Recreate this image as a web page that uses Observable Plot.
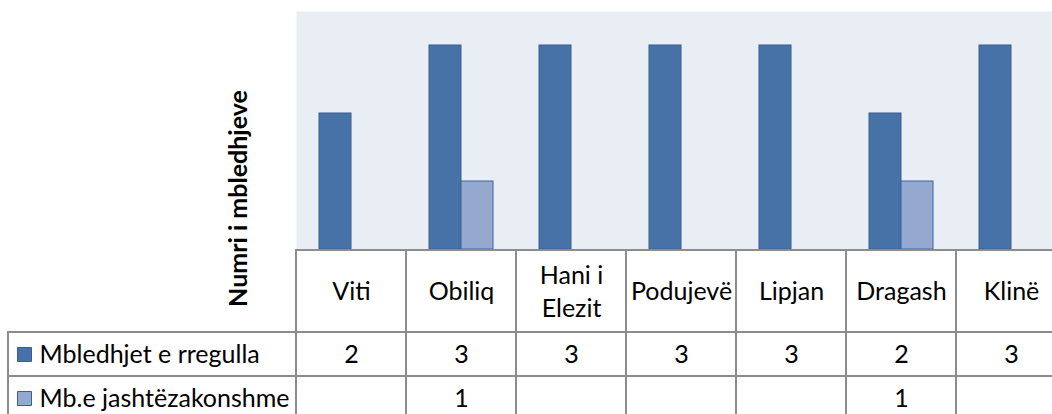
<!DOCTYPE html>
<html>
<head>
<meta charset="utf-8">
<script src="https://cdn.jsdelivr.net/npm/d3@7"></script>
<script src="https://cdn.jsdelivr.net/npm/@observablehq/plot@0.6"></script>
<style>
  html, body { margin: 0; padding: 0; background: #ffffff; }
  #chart { position: relative; width: 1052px; height: 414px; overflow: hidden; background: #ffffff; }
  #chart > div { position: absolute; width: 1070px; }
  svg { overflow: visible; max-width: none !important; }
</style>
</head>
<body>
<div id="chart">
  <div id="bars" style="left:0;top:0"></div>
  <div id="header" style="left:0;top:249px"></div>
  <div id="rows" style="left:0;top:331px"></div>
  <div id="legend" style="left:0;top:331px"></div>
</div>
<script>
// ---- data ----
const categories = ["Viti", "Obiliq", "Hani i Elezit", "Podujevë", "Lipjan", "Dragash", "Klinë"];
const seriesNames = ["Mbledhjet e rregulla", "Mb.e jashtëzakonshme"];
const regular = [2, 3, 3, 3, 3, 2, 3];
const extraordinary = [null, 1, null, null, null, 1, null];
const yTitle = "Numri i mbledhjeve";
const seriesColors = ["#4672A8", "#95A9D0"];

const rows = categories.flatMap((c, i) => [
  {category: c, series: seriesNames[0], value: regular[i]},
  {category: c, series: seriesNames[1], value: extraordinary[i]}
]);

const FONT = "Lato, 'Open Sans', sans-serif";
const FS = 25;
const GRID = "#8C8C8C";
const W = 1070, ML = 296, MR = 4;
const xOpts = {type: "band", domain: categories, padding: 0, axis: null};
const colorOpts = {domain: seriesNames, range: seriesColors};
const baseStyle = {background: "transparent", fontFamily: FONT, fontSize: FS + "px", color: "#000", overflow: "visible", maxWidth: "none"};

// ---- bars ----
const bars = Plot.plot({
  width: W, height: 251,
  marginLeft: ML, marginRight: MR, marginTop: 11, marginBottom: 2,
  style: baseStyle,
  x: xOpts,
  y: {domain: [0, 3.5], axis: null},
  color: colorOpts,
  marks: [
    Plot.frame({fill: "#E9EDF4", stroke: null}),
    Plot.barY(rows.filter(d => d.series === seriesNames[0]), {
      x: "category", y: "value", fill: "series", stroke: "#3A5E8E", strokeWidth: 1,
      insetLeft: 23, insetRight: 55
    }),
    Plot.barY(rows.filter(d => d.series === seriesNames[1]), {
      x: "category", y: "value", fill: "series", stroke: "#3D6597", strokeWidth: 1,
      insetLeft: 55, insetRight: 23
    }),
    Plot.text([yTitle], {
      text: d => d, frameAnchor: "bottom-left", rotate: -90, textAnchor: "middle",
      dx: -50, dy: -51, fontWeight: "bold", fontSize: FS, fill: "#000"
    })
  ]
});
document.getElementById("bars").append(bars);

// ---- table header (category names) ----
const header = Plot.plot({
  width: W, height: 84,
  marginLeft: ML, marginRight: MR, marginTop: 1, marginBottom: 1,
  style: baseStyle,
  x: xOpts,
  marks: [
    Plot.cell(categories, {x: d => d, fill: "#ffffff", stroke: GRID, strokeWidth: 2, inset: 0}),
    Plot.text(categories, {x: d => d, text: d => d, frameAnchor: "middle", dy: -2, lineWidth: 4.2, lineHeight: 1.32, fontSize: FS, fill: "#000"})
  ]
});
document.getElementById("header").append(header);

// ---- table value rows ----
const table = Plot.plot({
  width: W, height: 90,
  marginLeft: ML, marginRight: MR, marginTop: 1, marginBottom: 1,
  style: baseStyle,
  x: xOpts,
  y: {type: "band", domain: seriesNames, padding: 0, axis: null},
  marks: [
    Plot.cell(rows, {x: "category", y: "series", fill: "#ffffff", stroke: GRID, strokeWidth: 2, inset: 0}),
    Plot.text(rows.filter(d => d.value != null), {x: "category", y: "series", text: d => String(d.value), fontSize: FS, fill: "#000"})
  ]
});
document.getElementById("rows").append(table);

// ---- legend column of the table ----
const legend = Plot.plot({
  width: 297, height: 90,
  marginLeft: 8, marginRight: 1, marginTop: 1, marginBottom: 1,
  style: baseStyle,
  y: {type: "band", domain: seriesNames, padding: 0, axis: null},
  color: colorOpts,
  marks: [
    Plot.cell(seriesNames, {y: d => d, fill: "#ffffff", stroke: GRID, strokeWidth: 2, inset: 0}),
    Plot.dot(seriesNames, {y: d => d, frameAnchor: "left", dx: 16, symbol: "square", r: 7.9, fill: d => d, stroke: "#3A5E8E", strokeWidth: 1}),
    Plot.text(seriesNames, {y: d => d, text: d => d, frameAnchor: "left", textAnchor: "start", dx: 31, fontSize: FS, fill: "#000"})
  ]
});
document.getElementById("legend").append(legend);
</script>
</body>
</html>
